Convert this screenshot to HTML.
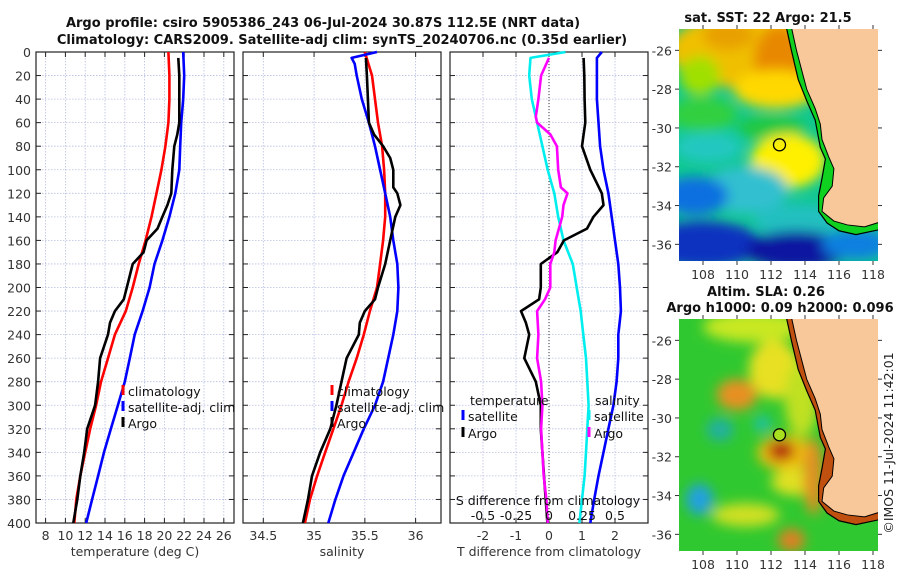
<!DOCTYPE html>
<html><head><meta charset="utf-8"><style>
html,body{margin:0;padding:0;background:#fff;}
svg{display:block;font-family:"DejaVu Sans","Liberation Sans",sans-serif;}
</style></head><body>
<svg id="fig" width="900" height="580" viewBox="0 0 900 580" xmlns="http://www.w3.org/2000/svg">
<text x="323" y="27" text-anchor="middle" font-size="13" font-weight="bold" fill="#111">Argo profile: csiro 5905386_243 06-Jul-2024 30.87S 112.5E (NRT data)</text>
<text x="342" y="44" text-anchor="middle" font-size="13" font-weight="bold" fill="#111">Climatology: CARS2009. Satellite-adj clim: synTS_20240706.nc (0.35d earlier)</text>
<text x="768" y="22" text-anchor="middle" font-size="13" font-weight="bold" fill="#111">sat. SST: 22 Argo: 21.5</text>
<text x="766" y="296" text-anchor="middle" font-size="13" font-weight="bold" fill="#111">Altim. SLA: 0.26</text>
<text x="780" y="312" text-anchor="middle" font-size="13" font-weight="bold" fill="#111">Argo h1000: 0.09 h2000: 0.096</text>
<text x="0" y="0" transform="translate(893,443) rotate(-90)" text-anchor="middle" font-size="12.5" fill="#222">©IMOS 11-Jul-2024 11:42:01</text>
<g id="plots"></g>
</svg>
<script>
// ---- data (depth in m) ----
const depths = [0,20,40,60,80,100,120,140,160,180,200,220,240,260,280,300,320,340,360,380,400];
const tempClim = [20.4,20.5,20.5,20.4,20.1,19.7,19.2,18.7,18.1,17.4,16.8,16.1,15.0,14.3,13.6,13.1,12.5,12.0,11.5,11.1,10.9];
const tempSat  = [21.9,22.0,21.9,21.7,21.6,21.5,21.1,20.5,19.8,19.0,18.5,17.8,17.0,16.5,16.0,15.3,14.6,13.9,13.3,12.7,12.1];
const argoDepths = [5,20,40,60,70,80,100,120,130,140,150,160,170,180,200,210,220,230,240,260,280,300,320,340,360,380,400];
const tempArgo = [21.4,21.5,21.5,21.5,21.3,21.0,20.8,20.7,20.3,19.8,19.3,18.2,17.9,16.8,16.2,15.9,15.0,14.5,14.3,13.5,13.3,13.0,12.2,11.9,11.5,11.2,10.8];
const salClim = [35.50,35.57,35.60,35.63,35.67,35.69,35.70,35.70,35.68,35.65,35.62,35.55,35.49,35.42,35.34,35.27,35.19,35.11,35.03,34.96,34.91];
const salSatDepths = [0,5,10,20,40,60,80,100,120,140,160,180,200,220,240,260,280,300,320,340,360,380,400];
const salSat = [35.62,35.37,35.40,35.42,35.47,35.54,35.60,35.65,35.70,35.75,35.78,35.82,35.83,35.82,35.78,35.73,35.68,35.60,35.49,35.39,35.29,35.21,35.14];
const salArgoDepths = [5,20,40,60,70,80,90,100,115,120,130,140,160,180,200,210,220,230,240,260,280,300,320,340,360,380,400];
const salArgo = [35.51,35.52,35.53,35.54,35.59,35.68,35.75,35.78,35.78,35.82,35.85,35.80,35.75,35.70,35.63,35.60,35.50,35.45,35.44,35.32,35.27,35.22,35.16,35.06,34.98,34.94,34.89];
const dTArgo = [1.05,1.07,1.08,1.1,1.05,1.0,1.25,1.6,1.65,1.35,1.15,0.45,0.25,-0.25,-0.25,-0.3,-0.85,-0.7,-0.6,-0.75,-0.4,-0.25,-0.25,-0.2,-0.15,-0.1,-0.05];
const dTSatDepths = [0,5,20,40,60,80,100,120,140,160,180,200,220,240,260,280,300,320,340,360,380,400];
const dTSat = [1.6,1.45,1.45,1.45,1.5,1.55,1.65,1.8,1.9,2.0,2.1,2.15,2.18,2.1,2.1,2.05,1.95,1.8,1.65,1.5,1.37,1.25];
const dSSatDepths = [0,5,20,40,60,80,100,120,140,160,180,200,220,240,260,280,300,320,340,360,380,400];
const dSSat = [0.125,-0.14,-0.15,-0.13,-0.09,-0.05,-0.01,0.04,0.07,0.11,0.18,0.21,0.24,0.26,0.28,0.29,0.30,0.29,0.28,0.27,0.25,0.23];
const dSArgoDepths = [5,20,40,55,60,70,80,100,115,120,130,140,160,170,180,200,210,220,240,260,280,300,320,340,360,380,400];
const dSArgo = [0,-0.06,-0.08,-0.10,-0.09,0.01,0.06,0.07,0.09,0.14,0.11,0.10,0.05,0.04,0.01,0.01,-0.03,-0.09,-0.08,-0.09,-0.06,-0.05,-0.06,-0.05,-0.04,-0.02,-0.01];
const depthTicks = [0,20,40,60,80,100,120,140,160,180,200,220,240,260,280,300,320,340,360,380,400];
const tempTicks = [8,10,12,14,16,18,20,22,24,26];
const salTicks = [34.5,35,35.5,36];
const dTTicks = [-2,-1,0,1,2];
const dSTicks = [-0.5,-0.25,0,0.25,0.5];
const dSTickLabels = ['-0.5','-0.25','0','0.25','0.5'];

const NS='http://www.w3.org/2000/svg';
const root=document.getElementById('plots');
function mk(tag,attrs,parent){const e=document.createElementNS(NS,tag);for(const k in attrs)e.setAttribute(k,attrs[k]);(parent||root).appendChild(e);return e;}
const Y0=52,Y1=523;
const FS=12.5;
const yScale=d=>Y0+(d/400)*(Y1-Y0);

function panel(name,x0,x1,xmin,xmax,ticks,labels,xlabel,gridVals){
  const xs=v=>x0+(v-xmin)/(xmax-xmin)*(x1-x0);
  const g=mk('g',{});
  
  
  (gridVals||ticks).forEach(v=>{const l=mk('line',{x1:xs(v),x2:xs(v),y1:Y0,y2:Y1,stroke:'#b8bfe0','stroke-width':0.8,'stroke-dasharray':'1.5,1.5'},g);});
  depthTicks.forEach(d=>{const l=mk('line',{x1:x0,x2:x1,y1:yScale(d),y2:yScale(d),stroke:'#b8bfe0','stroke-width':0.8,'stroke-dasharray':'1.5,1.5'},g);
    mk('line',{x1:x0,x2:x0+5,y1:yScale(d),y2:yScale(d),stroke:'#222'},g);mk('line',{x1:x1-5,x2:x1,y1:yScale(d),y2:yScale(d),stroke:'#222'},g);});
  ticks.forEach((v,i)=>{mk('line',{x1:xs(v),x2:xs(v),y1:Y1-5,y2:Y1,stroke:'#222'},g);mk('line',{x1:xs(v),x2:xs(v),y1:Y0,y2:Y0+5,stroke:'#222'},g);
    if(labels){const t=mk('text',{x:xs(v),y:Y1+17,'text-anchor':'middle','font-size':FS,fill:'#333'},g);t.textContent=labels[i];}});
  const r=mk('rect',{x:x0,y:Y0,width:x1-x0,height:Y1-Y0,fill:'none',stroke:'#222','stroke-width':1.2},g);
  
  if(xlabel){const t=mk('text',{x:(x0+x1)/2,y:Y1+33,'text-anchor':'middle','font-size':FS,fill:'#333'},g);t.textContent=xlabel;}
  return {xs,g};
}
function series(p,vals,ds,color,name){
  const pts=vals.map((v,i)=>p.xs(v).toFixed(1)+','+yScale(ds[i]).toFixed(1)).join(' ');
  const l=mk('polyline',{points:pts,fill:'none',stroke:color,'stroke-width':2.6,'stroke-linejoin':'round'},p.g);
  
}
function legend(g,x,y,color,label,name){
  const m=mk('rect',{x:x-1.5,y:y-11,width:3,height:10,fill:color},g);
  
  const t=mk('text',{x:x+5,y:y,'font-size':FS,fill:'#111'},g);t.textContent=label;
  
}
depthTicks.forEach(d=>{const t=mk('text',{x:31,y:yScale(d)+5,'text-anchor':'end','font-size':FS,fill:'#333'});t.textContent=d;});

const p1=panel('temperature',36,234,7.03,27.03,tempTicks,tempTicks.map(String),'temperature (deg C)');
series(p1,tempClim,depths,'#ff0000','temp-climatology-line');
series(p1,tempSat,depths,'#0000ff','temp-satellite-line');
series(p1,tempArgo,argoDepths,'#000000','temp-argo-line');
legend(p1.g,123,396,'#ff0000','climatology','legend-climatology');
legend(p1.g,123,412,'#0000ff','satellite-adj. clim','legend-satellite');
legend(p1.g,123,428,'#000000','Argo','legend-argo');

const p2=panel('salinity',243,441,34.30,36.25,salTicks,salTicks.map(String),'salinity');
series(p2,salClim,depths,'#ff0000','sal-climatology-line');
series(p2,salSat,salSatDepths,'#0000ff','sal-satellite-line');
series(p2,salArgo,salArgoDepths,'#000000','sal-argo-line');
legend(p2.g,332,396,'#ff0000','climatology','legend-climatology');
legend(p2.g,332,412,'#0000ff','satellite-adj. clim','legend-satellite');
legend(p2.g,332,428,'#000000','Argo','legend-argo');

const p3=panel('difference',450,648,-3,3,dTTicks,dTTicks.map(String),'T difference from climatology');
const zl=mk('line',{x1:p3.xs(0),x2:p3.xs(0),y1:Y0,y2:Y1,stroke:'#333','stroke-width':1,'stroke-dasharray':'1,2'},p3.g);

const sOf=v=>v*4;
series(p3,dSSat.map(sOf),dSSatDepths,'#00eeee','dS-satellite-line');
series(p3,dTSat,dTSatDepths,'#0000ff','dT-satellite-line');
series(p3,dTArgo,argoDepths,'#000000','dT-argo-line');
series(p3,dSArgo.map(sOf),dSArgoDepths,'#ff00ff','dS-argo-line');
{const t=mk('text',{x:470,y:405,'font-size':FS,fill:'#111'},p3.g);t.textContent='temperature';}
{const t=mk('text',{x:595,y:405,'font-size':FS,fill:'#111'},p3.g);t.textContent='salinity';}
legend(p3.g,463,421,'#0000ff','satellite','legend-t-satellite');
legend(p3.g,463,438,'#000000','Argo','legend-t-argo');
legend(p3.g,589,421,'#00eeee','satellite','legend-s-satellite');
legend(p3.g,589,438,'#ff00ff','Argo','legend-s-argo');
{const t=mk('text',{x:548,y:505,'text-anchor':'middle','font-size':FS,fill:'#111'},p3.g);t.textContent='S difference from climatology';}
dSTicks.forEach((v,i)=>{const t=mk('text',{x:p3.xs(v*4),y:520,'text-anchor':'middle','font-size':FS,fill:'#111'},p3.g);t.textContent=dSTickLabels[i];});

// ---- maps ----
const coast=[[113.2,-24.8],[113.5,-26],[113.8,-27],[114.1,-28],[114.6,-29],[114.9,-29.8],[115.0,-30.6],[115.4,-31.5],[115.7,-32.1],[115.6,-33],[115.1,-33.6],[115.0,-34.3],[115.7,-34.8],[116.5,-35.0],[117.5,-35.1],[118.6,-34.8],[118.6,-24.8]];
const shelf=[[112.9,-24.8],[113.2,-26],[113.6,-27.5],[114.1,-28.6],[114.6,-29.6],[114.9,-31.0],[115.2,-31.6],[115.0,-32.6],[114.8,-33.5],[114.8,-34.3],[115.3,-34.9],[116.0,-35.3],[117.0,-35.5],[118.6,-35.2]];
function map(name,y0,latTop,pxLat,draw,stripColor){
  const x0=679,x1=878,y1=y0+232;
  const lx=lon=>703+(lon-108)*17, ly=lat=>y0+(latTop-lat)*pxLat;
  const g=mk('g',{});
  const cp=mk('clipPath',{id:name+'-clip'},g);mk('rect',{x:x0,y:y0,width:x1-x0,height:y1-y0},cp);
  const inner=mk('g',{'clip-path':'url(#'+name+'-clip)'},g);
  draw(inner,lx,ly,x0,y0,x1,y1);
  const stripPts=shelf.map(p=>lx(p[0])+','+ly(p[1])).concat(coast.slice(0,-1).reverse().map(p=>lx(p[0])+','+ly(p[1]))).join(' ');
  const strip=mk('polygon',{points:stripPts,fill:stripColor},inner);
  
  const land=mk('polygon',{points:coast.map(p=>lx(p[0])+','+ly(p[1])).join(' '),fill:'#f8c89a',stroke:'#000','stroke-width':1},inner);
  
  mk('polyline',{points:shelf.map(p=>lx(p[0])+','+ly(p[1])).join(' '),fill:'none',stroke:'#000','stroke-width':1.2},inner);
  [108,110,112,114,116,118].forEach(v=>{const t=mk('text',{x:lx(v),y:y1+18,'text-anchor':'middle','font-size':FS,fill:'#333'},g);t.textContent=v;
    mk('line',{x1:lx(v),x2:lx(v),y1:y0-4,y2:y0,stroke:'#333'},g);mk('line',{x1:lx(v),x2:lx(v),y1:y1,y2:y1+4,stroke:'#333'},g);});
  [-26,-28,-30,-32,-34,-36].forEach(v=>{const t=mk('text',{x:672,y:ly(v)+5,'text-anchor':'end','font-size':FS,fill:'#333'},g);t.textContent=v;
    mk('line',{x1:x0-4,x2:x0,y1:ly(v),y2:ly(v),stroke:'#333'},g);mk('line',{x1:x1,x2:x1+4,y1:ly(v),y2:ly(v),stroke:'#333'},g);});
  const dot=mk('circle',{cx:lx(112.5),cy:ly(-30.87),r:6,fill:name==='sla-map'?'#a8e020':'none',stroke:'#000','stroke-width':1.3},g);
  
}
const defs=mk('defs',{});
const f=mk('filter',{id:'blur',x:'-50%',y:'-50%',width:'200%',height:'200%'},defs);mk('feGaussianBlur',{stdDeviation:6},f);
map('sst-map',29,-24.9,19.4,(g,lx,ly,x0,y0,x1,y1)=>{
  mk('rect',{x:x0,y:y0,width:x1-x0,height:y1-y0,fill:'#10c890'},g);
  const b=mk('g',{filter:'url(#blur)'},g);
  const E=(lo,la,rx,ry,c)=>mk('ellipse',{cx:lx(lo),cy:ly(la),rx:rx*17,ry:ry*19.4,fill:c},b);
  E(111,-26,5,2,'#f0c000');E(112.5,-26.5,1.5,1.8,'#e88800');E(109.5,-25.2,1.5,0.8,'#e8a000');E(107.8,-27.3,1.2,1,'#a0e000');
  E(112.3,-28,2.5,1,'#ffd800');E(108,-29.3,2,0.9,'#30d040');E(112,-30,2,0.6,'#20c840');
  E(108.3,-31,2,0.8,'#20c8c0');E(113,-31.7,2.2,1.4,'#fff000');E(110.5,-33.2,2.5,1.2,'#30c0d0');
  E(107.5,-33.5,2,1,'#1070e0');E(113.5,-34.8,2.5,0.9,'#20c0c0');E(108,-36,3.5,1.2,'#1030c0');E(113.5,-36.3,3,1,'#0818a0');E(117,-36,2,0.8,'#1080e0');
},'#10d020');
map('sla-map',319,-24.9,19.4,(g,lx,ly,x0,y0,x1,y1)=>{
  mk('rect',{x:x0,y:y0,width:x1-x0,height:y1-y0,fill:'#30c830'},g);
  const b=mk('g',{filter:'url(#blur)'},g);
  const E=(lo,la,rx,ry,c)=>mk('ellipse',{cx:lx(lo),cy:ly(la),rx:rx*17,ry:ry*19.4,fill:c},b);
  E(111,-25.3,3,0.8,'#c8e820');E(112.2,-27.5,1.5,1.5,'#e8e020');E(110,-28.8,1.2,0.8,'#e89020');E(113.8,-29,1,2,'#c0e020');
  E(112.8,-31.8,1.6,0.9,'#f0c010');E(112.6,-31.7,0.8,0.5,'#b01010');E(109,-30.6,0.8,0.6,'#20b0a0');E(111.5,-30.3,0.5,0.4,'#20c0b0');
  E(107.8,-34.2,0.8,0.8,'#20a0e0');E(113.5,-33.3,1.5,0.7,'#e0e020');E(110.5,-35,2,0.6,'#d0e020');E(113.2,-36.3,0.8,0.6,'#e08020');
  E(114.5,-33,0.6,2,'#e09020');
},'#c05010');
</script>
</body></html>
